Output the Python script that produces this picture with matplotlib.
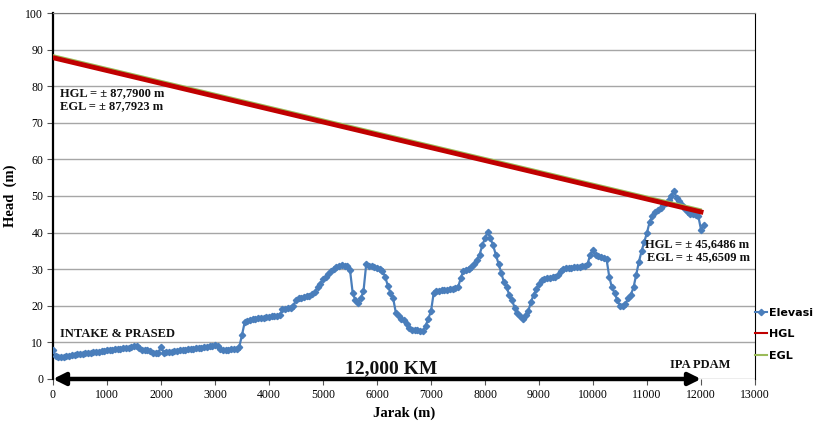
import matplotlib
matplotlib.use('Agg')
import matplotlib.pyplot as plt
from matplotlib import transforms

# distance along pipeline (m) and ground elevation (m)
jarak = list(range(0, 12051, 50))
elevasi = [
    7.8, 6.2, 5.9, 6.0, 6.1, 6.3, 6.4, 6.5, 6.6, 6.7, 6.8,
    6.9, 7.0, 7.1, 7.2, 7.3, 7.4, 7.5, 7.6, 7.7, 7.8,
    7.9, 8.0, 8.1, 8.2, 8.3, 8.4, 8.5, 8.6, 8.8, 9.0,
    8.9, 8.6, 8.0, 7.9, 7.8, 7.6, 7.2, 7.0, 7.1, 8.8,
    7.2, 7.3, 7.4, 7.5, 7.6, 7.7, 7.8, 7.9, 8.0, 8.1,
    8.2, 8.3, 8.4, 8.5, 8.6, 8.7, 8.8, 8.9, 9.0, 9.2,
    9.0, 8.3, 8.0, 7.9, 8.0, 8.1, 8.2, 8.3, 8.8, 12.0,
    15.5, 15.8, 16.0, 16.3, 16.5, 16.6, 16.7, 16.8, 16.9, 17.0,
    17.1, 17.2, 17.3, 17.4, 19.0, 19.2, 19.3, 19.5, 20.0, 21.5,
    22.0, 22.2, 22.4, 22.6, 22.8, 23.2, 23.8, 25.0, 26.0, 27.2,
    28.0, 28.8, 29.5, 30.0, 30.5, 30.9, 31.2, 31.0, 30.8, 29.8,
    23.5, 21.5, 20.8, 22.0, 24.0, 31.3, 31.0, 30.8, 30.6, 30.3,
    30.0, 29.5, 28.0, 25.5, 23.5, 22.0, 18.0, 17.2, 16.5, 16.0,
    15.0, 14.0, 13.5, 13.3, 13.4, 13.2, 13.0, 14.5, 16.5, 18.5,
    23.5, 24.0, 24.1, 24.2, 24.3, 24.4, 24.5, 24.6, 24.8, 25.0,
    27.5, 29.6, 29.8, 30.0, 30.5, 31.5, 32.5, 34.0, 36.5, 38.5,
    40.2, 38.5, 36.5, 34.0, 31.5, 29.0, 26.5, 25.0, 23.0, 21.5,
    19.5, 18.0, 17.2, 16.5, 17.5, 18.5, 21.0, 23.0, 24.5, 26.0,
    27.0, 27.3, 27.5, 27.6, 27.8, 28.0, 28.5, 29.5, 30.0, 30.2,
    30.3, 30.4, 30.5, 30.6, 30.7, 30.8, 31.0, 31.5, 34.0, 35.2,
    33.8, 33.5, 33.2, 33.0, 32.8, 28.0, 25.0, 23.5, 21.5, 20.0,
    20.0, 20.5, 22.0, 23.0, 25.0, 28.5, 32.0, 35.0, 37.5, 40.0,
    43.0, 44.5, 45.5, 46.2, 46.8, 47.5, 48.2, 49.0, 50.0, 51.3,
    49.5, 48.5, 47.5, 46.5, 45.5, 45.0, 45.2, 44.8, 44.5, 40.8,
    42.0,
]

# hydraulic / energy grade line end points
gl_jarak = [0, 12000]
hgl = [87.7900, 45.6486]
egl = [87.7923, 45.6509]

serif = 'Liberation Serif'

fig = plt.figure(figsize=(8.15, 4.21), dpi=100)
ax = fig.add_axes([0.065, 0.0998, 0.8614, 0.8693])

ax.set_xlim(0, 13000)
ax.set_ylim(0, 100)
ax.set_xticks(range(0, 13001, 1000))
ax.set_yticks(range(0, 101, 10))
ax.yaxis.grid(True, color='#a6a6a6', lw=1)
ax.set_axisbelow(True)
ax.tick_params(direction='out', length=4, width=0.8, color='#555555',
               labelsize=8.5, pad=3)
for lab in ax.get_xticklabels() + ax.get_yticklabels():
    lab.set_family(serif)
ax.spines['left'].set_linewidth(1.6)
ax.spines['right'].set_linewidth(0.8)
ax.spines['top'].set_color('#7f7f7f')
ax.spines['bottom'].set_visible(False)

# EGL drawn a hair above and behind HGL so the green edge shows
up = transforms.offset_copy(ax.transData, fig=fig, x=0, y=1.9, units='points')
ax.plot(jarak, elevasi, color='#4a7ebb', lw=1.6, marker='D', ms=3.2,
        label='Elevasi', zorder=3)
ax.plot(gl_jarak, hgl, color='#c00000', lw=3.5, label='HGL', zorder=4)
ax.plot(gl_jarak, egl, color='#9bbb59', lw=1.3, label='EGL', zorder=3.5,
        transform=up)

leg = ax.legend(loc='upper left', bbox_to_anchor=(1.0, 0.195), frameon=False,
                handlelength=1.1, handletextpad=0.15, labelspacing=1.05,
                borderaxespad=0, borderpad=0,
                prop={'family': 'DejaVu Sans', 'weight': 'bold', 'size': 8})
for h in leg.legend_handles:
    h.set_linewidth(1.5)

# distance arrow along the base
ax.annotate('', xy=(12000, 0), xytext=(0, 0),
            arrowprops=dict(arrowstyle='<|-|>', color='black', lw=3.2,
                            mutation_scale=18, shrinkA=0, shrinkB=0),
            annotation_clip=False, zorder=6)

tb = dict(family=serif, weight='bold', fontsize=9, color='#111111')
ax.text(130, 79.8, 'HGL = \u00b1 87,7900 m\nEGL = \u00b1 87,7923 m',
        va='top', ha='left', linespacing=1.15, **tb)
ax.text(12900, 38.5, 'HGL = \u00b1 45,6486 m\nEGL = \u00b1 45,6509 m',
        va='top', ha='right', linespacing=1.15, **tb)
ax.text(130, 12.3, 'INTAKE & PRASED', va='center', ha='left', **tb)
ax.text(11990, 3.9, 'IPA PDAM', va='center', ha='center', **tb)
ax.text(6260, 2.8, '12,000 KM', va='center', ha='center', family=serif,
        weight='bold', fontsize=14, color='#111111', zorder=7)

ax.set_xlabel('Jarak (m)', family=serif, weight='bold', fontsize=10.5,
              labelpad=4)
ax.set_ylabel('Head  (m)', family=serif, weight='bold', fontsize=10.5,
              labelpad=6)

fig.savefig('out.png', dpi=100)
